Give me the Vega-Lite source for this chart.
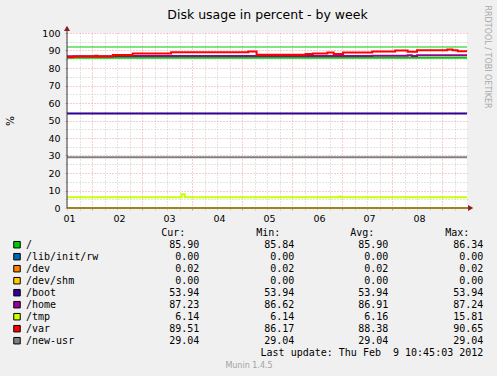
{
  "$schema": "https://vega.github.io/schema/vega-lite/v6.json",
  "width": 400,
  "height": 175,
  "autosize": {"type": "none"},
  "padding": {"left": 67, "top": 33, "right": 30, "bottom": 168},
  "background": "#f0f0f0",
  "config": {
    "view": {"stroke": null, "fill": "#ffffff"},
    "font": "DejaVu Sans",
    "legend": {"disable": true}
  },
  "datasets": {
    "series": [
      {"name": "/", "t": "2012-02-01T12:00:00Z", "v": 85.9},
      {"name": "/", "t": "2012-02-09T12:00:00Z", "v": 85.9},
      {"name": "/lib/init/rw", "t": "2012-02-01T12:00:00Z", "v": 0},
      {"name": "/lib/init/rw", "t": "2012-02-09T12:00:00Z", "v": 0},
      {"name": "/dev", "t": "2012-02-01T12:00:00Z", "v": 0.02},
      {"name": "/dev", "t": "2012-02-09T12:00:00Z", "v": 0.02},
      {"name": "/dev/shm", "t": "2012-02-01T12:00:00Z", "v": 0},
      {"name": "/dev/shm", "t": "2012-02-09T12:00:00Z", "v": 0},
      {"name": "/boot", "t": "2012-02-01T12:00:00Z", "v": 53.94},
      {"name": "/boot", "t": "2012-02-09T12:00:00Z", "v": 53.94},
      {"name": "/home", "t": "2012-02-01T12:00:00Z", "v": 86.65},
      {"name": "/home", "t": "2012-02-02T10:00:00Z", "v": 86.8},
      {"name": "/home", "t": "2012-02-05T03:00:00Z", "v": 86.9},
      {"name": "/home", "t": "2012-02-07T14:30:00Z", "v": 87.05},
      {"name": "/home", "t": "2012-02-08T07:30:00Z", "v": 87.35},
      {"name": "/home", "t": "2012-02-08T09:30:00Z", "v": 86.8},
      {"name": "/home", "t": "2012-02-08T12:00:00Z", "v": 87.22},
      {"name": "/home", "t": "2012-02-09T12:00:00Z", "v": 87.22},
      {"name": "/tmp", "t": "2012-02-01T12:00:00Z", "v": 6.14},
      {"name": "/tmp", "t": "2012-02-03T19:00:00Z", "v": 7.9},
      {"name": "/tmp", "t": "2012-02-03T20:30:00Z", "v": 6.14},
      {"name": "/tmp", "t": "2012-02-06T22:30:00Z", "v": 6.5},
      {"name": "/tmp", "t": "2012-02-06T23:30:00Z", "v": 6.14},
      {"name": "/tmp", "t": "2012-02-09T12:00:00Z", "v": 6.14},
      {"name": "/var", "t": "2012-02-01T12:00:00Z", "v": 86.2},
      {"name": "/var", "t": "2012-02-01T15:00:00Z", "v": 86.6},
      {"name": "/var", "t": "2012-02-02T01:30:00Z", "v": 87.0},
      {"name": "/var", "t": "2012-02-02T02:30:00Z", "v": 86.6},
      {"name": "/var", "t": "2012-02-02T10:00:00Z", "v": 87.5},
      {"name": "/var", "t": "2012-02-02T19:30:00Z", "v": 88.3},
      {"name": "/var", "t": "2012-02-03T14:00:00Z", "v": 89.0},
      {"name": "/var", "t": "2012-02-05T03:00:00Z", "v": 89.5},
      {"name": "/var", "t": "2012-02-05T07:00:00Z", "v": 87.6},
      {"name": "/var", "t": "2012-02-06T06:30:00Z", "v": 88.0},
      {"name": "/var", "t": "2012-02-06T10:00:00Z", "v": 88.3},
      {"name": "/var", "t": "2012-02-06T17:00:00Z", "v": 88.8},
      {"name": "/var", "t": "2012-02-06T20:00:00Z", "v": 88.0},
      {"name": "/var", "t": "2012-02-07T00:30:00Z", "v": 88.8},
      {"name": "/var", "t": "2012-02-07T14:30:00Z", "v": 89.4},
      {"name": "/var", "t": "2012-02-08T01:30:00Z", "v": 90.0},
      {"name": "/var", "t": "2012-02-08T07:30:00Z", "v": 89.3},
      {"name": "/var", "t": "2012-02-08T12:00:00Z", "v": 90.2},
      {"name": "/var", "t": "2012-02-09T02:30:00Z", "v": 90.6},
      {"name": "/var", "t": "2012-02-09T05:00:00Z", "v": 90.2},
      {"name": "/var", "t": "2012-02-09T07:30:00Z", "v": 89.51},
      {"name": "/var", "t": "2012-02-09T12:00:00Z", "v": 89.51},
      {"name": "/new-usr", "t": "2012-02-01T12:00:00Z", "v": 29.04},
      {"name": "/new-usr", "t": "2012-02-09T12:00:00Z", "v": 29.04}
    ],
    "legend": [
      {"name": "/", "cur": 85.90, "min": 85.84, "avg": 85.90, "max": 86.34},
      {"name": "/lib/init/rw", "cur": 0, "min": 0, "avg": 0, "max": 0},
      {"name": "/dev", "cur": 0.02, "min": 0.02, "avg": 0.02, "max": 0.02},
      {"name": "/dev/shm", "cur": 0, "min": 0, "avg": 0, "max": 0},
      {"name": "/boot", "cur": 53.94, "min": 53.94, "avg": 53.94, "max": 53.94},
      {"name": "/home", "cur": 87.23, "min": 86.62, "avg": 86.91, "max": 87.24},
      {"name": "/tmp", "cur": 6.14, "min": 6.14, "avg": 6.16, "max": 15.81},
      {"name": "/var", "cur": 89.51, "min": 86.17, "avg": 88.38, "max": 90.65},
      {"name": "/new-usr", "cur": 29.04, "min": 29.04, "avg": 29.04, "max": 29.04}
    ]
  },
  "resolve": {"scale": {"x": "independent", "y": "independent"}},
  "layer": [
    {
      "data": {"name": "series"},
      "mark": {"type": "line", "interpolate": "step-after", "strokeWidth": 2},
      "encoding": {
        "x": {
          "field": "t", "type": "temporal",
          "scale": {"type": "utc", "nice": false, "domain": [
            {"year": 2012, "month": 2, "date": 1, "hours": 12, "utc": true},
            {"year": 2012, "month": 2, "date": 9, "hours": 11, "minutes": 59, "utc": true}
          ]},
          "axis": {
            "orient": "bottom",
            "tickCount": 32,
            "labelExpr": "utchours(datum.value) == 12 ? utcFormat(datum.value, '%d') : ''",
            "labelFont": "DejaVu Sans", "labelFontSize": 9.5, "labelColor": "#000000",
            "labelPadding": 3, "labelOffset": 2, "labelFlush": false, "labelOverlap": false,
            "tickSize": 2,
            "tickColor": {"condition": {"test": "utchours(datum.value) == 0", "value": "#e09a9a"}, "value": "#d0d0d0"},
            "grid": true,
            "gridColor": {"condition": {"test": "utchours(datum.value) == 0", "value": "#e8a0a0"}, "value": "#c8c8c8"},
            "gridDash": [1, 2],
            "domain": false,
            "title": "Munin 1.4.5",
            "titleX": 181.5, "titleY": 157, "titleAlign": "center", "titleBaseline": "middle",
            "titleFont": "DejaVu Sans", "titleFontSize": 8, "titleFontWeight": "normal", "titleColor": "#a3a3a3"
          }
        },
        "y": {
          "field": "v", "type": "quantitative",
          "scale": {"domain": [0, 100], "nice": false},
          "axis": {
            "orient": "left",
            "values": [0, 5, 10, 15, 20, 25, 30, 35, 40, 45, 50, 55, 60, 65, 70, 75, 80, 85, 90, 95, 100],
            "labelExpr": "datum.value % 10 == 0 ? datum.label : ''",
            "labelFont": "DejaVu Sans", "labelFontSize": 9.5, "labelColor": "#000000",
            "labelPadding": 5, "tickSize": 2,
            "tickColor": {"condition": {"test": "datum.value % 10 == 0", "value": "#e09a9a"}, "value": "#d0d0d0"},
            "grid": true,
            "gridColor": {"condition": {"test": "datum.value % 10 == 0", "value": "#e8a0a0"}, "value": "#c8c8c8"},
            "gridDash": [1, 2],
            "domain": false,
            "title": "%",
            "titleX": -57, "titleY": 87.5, "titleAngle": 270, "titleAlign": "center", "titleBaseline": "middle",
            "titleFont": "DejaVu Sans", "titleFontSize": 10.5, "titleFontWeight": "normal", "titleColor": "#000000"
          }
        },
        "color": {
          "field": "name", "type": "nominal",
          "scale": {
            "domain": ["/", "/lib/init/rw", "/dev", "/dev/shm", "/boot", "/home", "/tmp", "/var", "/new-usr"],
            "range": ["#00cc00", "#0066b3", "#ff8000", "#ffcc00", "#330099", "#990099", "#ccff00", "#ff0000", "#808080"]
          },
          "legend": null
        }
      }
    },
    {
      "data": {"values": [{}]},
      "mark": {"type": "rule", "color": "#00cc00", "strokeWidth": 1},
      "encoding": {
        "y": {"datum": 92, "type": "quantitative", "scale": {"domain": [0, 100], "nice": false}, "axis": null}
      }
    },
    {
      "data": {"values": [{}]},
      "mark": {"type": "rule", "color": "#3c3c3c", "strokeWidth": 1},
      "encoding": {
        "x": {"datum": {"year": 2012, "month": 2, "date": 1, "hours": 12, "utc": true}, "type": "temporal",
              "scale": {"type": "utc", "nice": false, "domain": [
                {"year": 2012, "month": 2, "date": 1, "hours": 12, "utc": true},
                {"year": 2012, "month": 2, "date": 9, "hours": 11, "minutes": 59, "utc": true}]}, "axis": null},
        "y": {"datum": 0, "type": "quantitative", "scale": {"domain": [0, 100], "nice": false}, "axis": null},
        "y2": {"datum": 103}
      }
    },
    {
      "data": {"values": [{}]},
      "mark": {"type": "rule", "color": "#3c3c3c", "strokeWidth": 1},
      "encoding": {
        "x": {"datum": {"year": 2012, "month": 2, "date": 1, "hours": 12, "utc": true}, "type": "temporal",
              "scale": {"type": "utc", "nice": false, "domain": [
                {"year": 2012, "month": 2, "date": 1, "hours": 12, "utc": true},
                {"year": 2012, "month": 2, "date": 9, "hours": 11, "minutes": 59, "utc": true}]}, "axis": null},
        "x2": {"datum": {"year": 2012, "month": 2, "date": 9, "hours": 13, "utc": true}},
        "y": {"datum": 0, "type": "quantitative", "scale": {"domain": [0, 100], "nice": false}, "axis": null}
      }
    },
    {
      "data": {"values": [{}]},
      "mark": {"type": "point", "shape": "triangle-up", "filled": true, "size": 36, "color": "#8a1f1f", "opacity": 1},
      "encoding": {
        "x": {"datum": {"year": 2012, "month": 2, "date": 1, "hours": 12, "utc": true}, "type": "temporal",
              "scale": {"type": "utc", "nice": false, "domain": [
                {"year": 2012, "month": 2, "date": 1, "hours": 12, "utc": true},
                {"year": 2012, "month": 2, "date": 9, "hours": 11, "minutes": 59, "utc": true}]}, "axis": null},
        "y": {"datum": 102.6, "type": "quantitative", "scale": {"domain": [0, 100], "nice": false}, "axis": null}
      }
    },
    {
      "data": {"values": [{}]},
      "mark": {"type": "point", "shape": "triangle-right", "filled": true, "size": 36, "color": "#8a1f1f", "opacity": 1},
      "encoding": {
        "x": {"datum": {"year": 2012, "month": 2, "date": 9, "hours": 13, "minutes": 45, "utc": true}, "type": "temporal",
              "scale": {"type": "utc", "nice": false, "domain": [
                {"year": 2012, "month": 2, "date": 1, "hours": 12, "utc": true},
                {"year": 2012, "month": 2, "date": 9, "hours": 11, "minutes": 59, "utc": true}]}, "axis": null},
        "y": {"datum": 0, "type": "quantitative", "scale": {"domain": [0, 100], "nice": false}, "axis": null}
      }
    },
    {
      "data": {"name": "legend"},
      "mark": {"type": "square", "size": 42, "filled": true, "stroke": "#000000", "strokeWidth": 1, "opacity": 1},
      "encoding": {
        "x": {
          "datum": 0, "type": "quantitative",
          "scale": {"domain": [0, 1, 2, 3, 4, 5], "range": [-50, -41, 132.3, 227.3, 321.3, 416.3]},
          "axis": {
            "orient": "top", "labels": false, "ticks": false, "domain": false, "grid": false, "tickCount": 2,
            "title": "Disk usage in percent - by week",
            "titleX": 200, "titleY": -14.7, "titleAlign": "center", "titleBaseline": "alphabetic",
            "titleFont": "DejaVu Sans", "titleFontSize": 12.5, "titleFontWeight": "normal", "titleColor": "#000000"
          }
        },
        "y": {
          "field": "name", "type": "nominal",
          "scale": {
            "type": "point", "padding": 0,
            "domain": ["hdr", "/", "/lib/init/rw", "/dev", "/dev/shm", "/boot", "/home", "/tmp", "/var", "/new-usr", "upd"],
            "range": [199.7, 319.7]
          },
          "axis": {
            "orient": "right", "labels": false, "ticks": false, "domain": false, "grid": false,
            "title": "RRDTOOL / TOBI OETIKER",
            "titleX": 19.5, "titleY": -28, "titleAngle": 90, "titleAlign": "left", "titleBaseline": "middle",
            "titleFont": "DejaVu Sans", "titleFontSize": 8, "titleFontWeight": "normal", "titleColor": "#a8a8a8"
          }
        },
        "color": {"field": "name", "type": "nominal", "legend": null}
      }
    },
    {
      "data": {"name": "legend"},
      "mark": {"type": "text", "align": "left", "baseline": "middle", "font": "DejaVu Sans Mono", "fontSize": 10, "color": "#000000"},
      "encoding": {
        "x": {"datum": 1, "type": "quantitative", "scale": {"domain": [0, 1, 2, 3, 4, 5], "range": [-50, -41, 132.3, 227.3, 321.3, 416.3]}, "axis": null},
        "y": {"field": "name", "type": "nominal", "scale": {"type": "point", "padding": 0, "domain": ["hdr", "/", "/lib/init/rw", "/dev", "/dev/shm", "/boot", "/home", "/tmp", "/var", "/new-usr", "upd"], "range": [199.7, 319.7]}, "axis": null},
        "text": {"field": "name", "type": "nominal"}
      }
    },
    {
      "data": {"name": "legend"},
      "mark": {"type": "text", "align": "right", "baseline": "middle", "font": "DejaVu Sans Mono", "fontSize": 10, "color": "#000000"},
      "encoding": {
        "x": {"datum": 2, "type": "quantitative", "scale": {"domain": [0, 1, 2, 3, 4, 5], "range": [-50, -41, 132.3, 227.3, 321.3, 416.3]}, "axis": null},
        "y": {"field": "name", "type": "nominal", "scale": {"type": "point", "padding": 0, "domain": ["hdr", "/", "/lib/init/rw", "/dev", "/dev/shm", "/boot", "/home", "/tmp", "/var", "/new-usr", "upd"], "range": [199.7, 319.7]}, "axis": null},
        "text": {"field": "cur", "type": "quantitative", "format": ".2f"}
      }
    },
    {
      "data": {"name": "legend"},
      "mark": {"type": "text", "align": "right", "baseline": "middle", "font": "DejaVu Sans Mono", "fontSize": 10, "color": "#000000"},
      "encoding": {
        "x": {"datum": 3, "type": "quantitative", "scale": {"domain": [0, 1, 2, 3, 4, 5], "range": [-50, -41, 132.3, 227.3, 321.3, 416.3]}, "axis": null},
        "y": {"field": "name", "type": "nominal", "scale": {"type": "point", "padding": 0, "domain": ["hdr", "/", "/lib/init/rw", "/dev", "/dev/shm", "/boot", "/home", "/tmp", "/var", "/new-usr", "upd"], "range": [199.7, 319.7]}, "axis": null},
        "text": {"field": "min", "type": "quantitative", "format": ".2f"}
      }
    },
    {
      "data": {"name": "legend"},
      "mark": {"type": "text", "align": "right", "baseline": "middle", "font": "DejaVu Sans Mono", "fontSize": 10, "color": "#000000"},
      "encoding": {
        "x": {"datum": 4, "type": "quantitative", "scale": {"domain": [0, 1, 2, 3, 4, 5], "range": [-50, -41, 132.3, 227.3, 321.3, 416.3]}, "axis": null},
        "y": {"field": "name", "type": "nominal", "scale": {"type": "point", "padding": 0, "domain": ["hdr", "/", "/lib/init/rw", "/dev", "/dev/shm", "/boot", "/home", "/tmp", "/var", "/new-usr", "upd"], "range": [199.7, 319.7]}, "axis": null},
        "text": {"field": "avg", "type": "quantitative", "format": ".2f"}
      }
    },
    {
      "data": {"name": "legend"},
      "mark": {"type": "text", "align": "right", "baseline": "middle", "font": "DejaVu Sans Mono", "fontSize": 10, "color": "#000000"},
      "encoding": {
        "x": {"datum": 5, "type": "quantitative", "scale": {"domain": [0, 1, 2, 3, 4, 5], "range": [-50, -41, 132.3, 227.3, 321.3, 416.3]}, "axis": null},
        "y": {"field": "name", "type": "nominal", "scale": {"type": "point", "padding": 0, "domain": ["hdr", "/", "/lib/init/rw", "/dev", "/dev/shm", "/boot", "/home", "/tmp", "/var", "/new-usr", "upd"], "range": [199.7, 319.7]}, "axis": null},
        "text": {"field": "max", "type": "quantitative", "format": ".2f"}
      }
    },
    {
      "data": {"values": [{"h": "Cur:", "c": 2}, {"h": "Min:", "c": 3}, {"h": "Avg:", "c": 4}, {"h": "Max:", "c": 5}]},
      "mark": {"type": "text", "align": "right", "baseline": "middle", "dx": -14, "font": "DejaVu Sans Mono", "fontSize": 10, "color": "#000000"},
      "encoding": {
        "x": {"field": "c", "type": "quantitative", "scale": {"domain": [0, 1, 2, 3, 4, 5], "range": [-50, -41, 132.3, 227.3, 321.3, 416.3]}, "axis": null},
        "y": {"datum": "hdr", "type": "nominal", "scale": {"type": "point", "padding": 0, "domain": ["hdr", "/", "/lib/init/rw", "/dev", "/dev/shm", "/boot", "/home", "/tmp", "/var", "/new-usr", "upd"], "range": [199.7, 319.7]}, "axis": null},
        "text": {"field": "h", "type": "nominal"}
      }
    },
    {
      "data": {"values": [{}]},
      "mark": {"type": "text", "align": "right", "baseline": "middle", "font": "DejaVu Sans Mono", "fontSize": 10, "color": "#000000"},
      "encoding": {
        "x": {"datum": 5, "type": "quantitative", "scale": {"domain": [0, 1, 2, 3, 4, 5], "range": [-50, -41, 132.3, 227.3, 321.3, 416.3]}, "axis": null},
        "y": {"datum": "upd", "type": "nominal", "scale": {"type": "point", "padding": 0, "domain": ["hdr", "/", "/lib/init/rw", "/dev", "/dev/shm", "/boot", "/home", "/tmp", "/var", "/new-usr", "upd"], "range": [199.7, 319.7]}, "axis": null},
        "text": {"value": "Last update: Thu Feb \u00a09 10:45:03 2012"}
      }
    }
  ]
}
